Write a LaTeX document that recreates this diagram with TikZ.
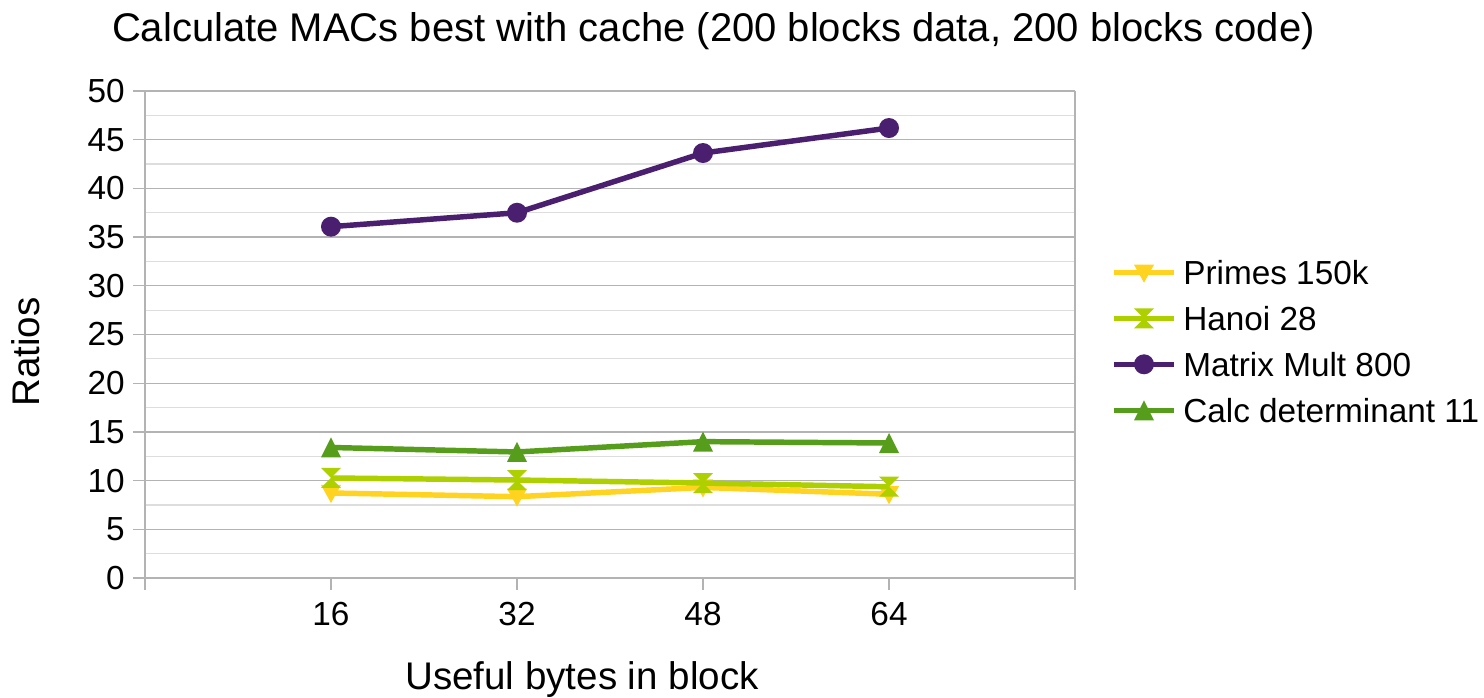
\documentclass[tikz,border=0pt]{standalone}
\usepackage{fontspec}
\setmainfont{Liberation Sans}
\definecolor{primescol}{HTML}{FFD320}
\definecolor{hanoicol}{HTML}{AECF00}
\definecolor{matrixcol}{HTML}{4B1F6F}
\definecolor{calccol}{HTML}{579D1C}
\definecolor{gridmajorcol}{HTML}{B3B3B3}
\definecolor{gridminorcol}{HTML}{DDDDDD}
\tikzset{
  majorline/.style={draw=gridmajorcol, line width=0.9pt},
  minorline/.style={draw=gridminorcol, line width=0.9pt},
  seriesline/.style={line width=4.1pt, line join=round},
  ticklabel/.style={inner sep=0pt, font=\fontsize{25}{30}\selectfont},
  axistitle/.style={inner sep=0pt, font=\fontsize{28.9}{34}\selectfont},
  pics/downtri/.style={code={\fill[#1] (-10,-8) -- (10,-8) -- (0,10) -- cycle;}},
  pics/uptri/.style={code={\fill[#1] (-10,10) -- (10,10) -- (0,-10) -- cycle;}},
  pics/hourglass/.style={code={\fill[#1] (-10,-10) -- (10,-10) -- (-10,10) -- (10,10) -- cycle;}},
  pics/dot/.style={code={\fill[#1] (0,0) circle[radius=7.5pt];}},
}
\begin{document}
\begin{tikzpicture}[x=0.75pt,y=-0.75pt]
\useasboundingbox[fill=white] (0,0) rectangle (1484,698);

% title
\node[inner sep=0pt, anchor=base, font=\fontsize{30}{36}\selectfont] (title) at (713.5,42)
  {Calculate MACs best with cache (200 blocks data, 200 blocks code)};

% grid
\foreach \v in {2.5,7.5,...,47.5}
  \draw[minorline] (145,{578-9.74*\v}) -- (1075,{578-9.74*\v});
\foreach \v in {0,5,...,50}{
  \draw[majorline] (133,{578-9.74*\v}) -- (1075,{578-9.74*\v});
  \node[ticklabel, anchor=east] (ylab\v) at (125,{578-9.74*\v}) {\v};
}
% vertical frame lines and category ticks
\draw[majorline] (145,91) -- (145,590);
\draw[majorline] (1075,91) -- (1075,590);
\foreach \x in {331,517,703,889}
  \draw[majorline] (\x,578) -- (\x,590);
\node[ticklabel, anchor=base] (x16) at (331,625) {16};
\node[ticklabel, anchor=base] (x32) at (517,625) {32};
\node[ticklabel, anchor=base] (x48) at (703,625) {48};
\node[ticklabel, anchor=base] (x64) at (889,625) {64};

% axis titles
\node[axistitle, anchor=base] (xtitle) at (582,689) {Useful bytes in block};
\node[axistitle, anchor=base, rotate=90] (ytitle) at (39.5,352) {Ratios};

% data points
\foreach \name/\a/\b/\c/\d in {p/8.73/8.35/9.3/8.6, h/10.27/10.06/9.75/9.37,
    m/36.07/37.5/43.63/46.2, c/13.4/12.94/14.0/13.86}{
  \coordinate (\name1) at (331,{578-9.74*\a});
  \coordinate (\name2) at (517,{578-9.74*\b});
  \coordinate (\name3) at (703,{578-9.74*\c});
  \coordinate (\name4) at (889,{578-9.74*\d});
}

% series
\draw[seriesline, primescol] (p1) -- (p2) -- (p3) -- (p4);
\foreach \i in {1,2,3,4} \pic at (p\i) {downtri=primescol};
\draw[seriesline, hanoicol] (h1) -- (h2) -- (h3) -- (h4);
\foreach \i in {1,2,3,4} \pic at (h\i) {hourglass=hanoicol};
\draw[seriesline, matrixcol] (m1) -- (m2) -- (m3) -- (m4);
\foreach \i in {1,2,3,4} \pic at (m\i) {dot=matrixcol};
\draw[seriesline, calccol] (c1) -- (c2) -- (c3) -- (c4);
\foreach \i in {1,2,3,4} \pic at (c\i) {uptri=calccol};

% legend
\foreach \k/\y/\col/\mk/\txt in {
    lp/272.7/primescol/downtri/Primes 150k,
    lh/318.3/hanoicol/hourglass/Hanoi 28,
    lm/364.3/matrixcol/dot/Matrix Mult 800,
    lc/410.3/calccol/uptri/Calc determinant 11}{
  \coordinate (\k a) at (1114,\y);
  \coordinate (\k b) at (1174,\y);
  \coordinate (\k c) at (1144,\y);
  \draw[line width=4.1pt, \col] (\k a) -- (\k b);
  \pic at (\k c) {\mk=\col};
  \node[ticklabel, anchor=base west] (\k t) at (1183,{\y+12.2}) {\txt};
}
\end{tikzpicture}
\end{document}
